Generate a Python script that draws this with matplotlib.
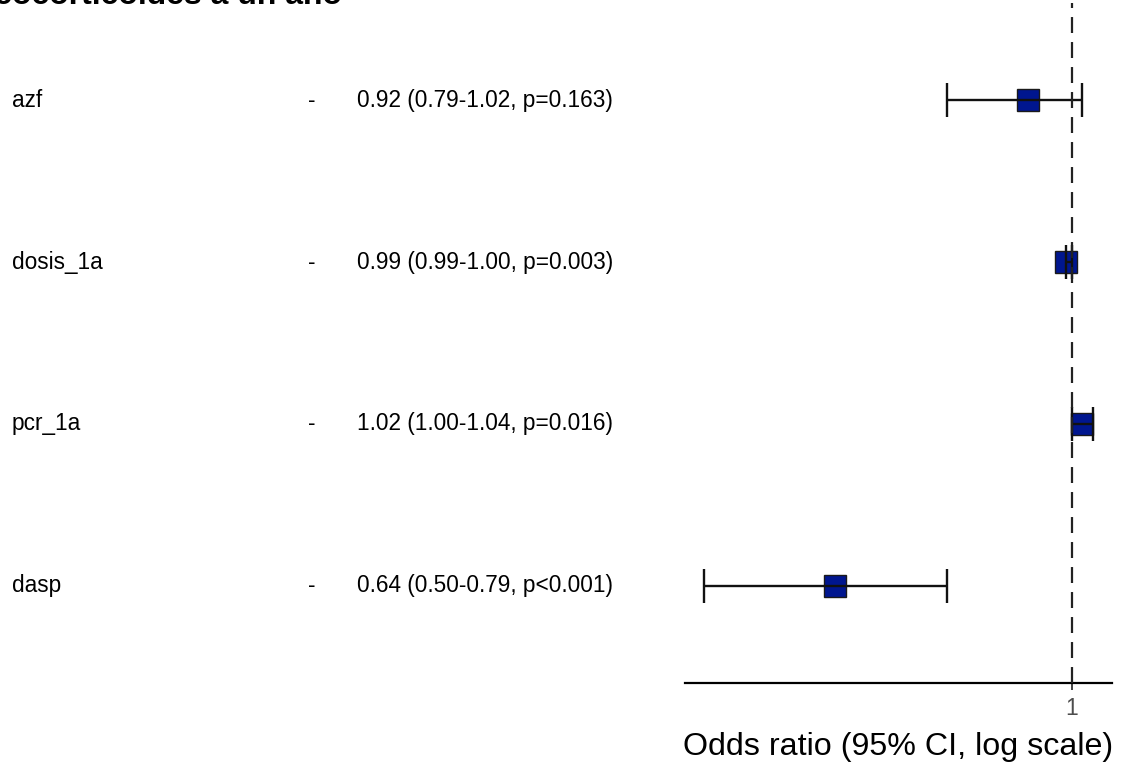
import numpy as np
import matplotlib
matplotlib.use("Agg")
from matplotlib import pyplot as plt
from matplotlib.transforms import blended_transform_factory

plt.rcParams['font.family'] = ['Liberation Sans', 'DejaVu Sans']
plt.rcParams['lines.scale_dashes'] = False

# Odds ratio table (top row first)
variables = ['azf', 'dosis_1a', 'pcr_1a', 'dasp']
levels = ['-', '-', '-', '-']
odds = [0.92, 0.99, 1.02, 0.64]
lower = [0.79, 0.99, 1.00, 0.50]
upper = [1.02, 1.00, 1.04, 0.79]
pvals = ['p=0.163', 'p=0.003', 'p=0.016', 'p<0.001']

title = 'Uso de glucocorticoides a un año'
xlabel = 'Odds ratio (95% CI, log scale)'

W, H = 1121, 764
fig = plt.figure(figsize=(W / 100, H / 100), dpi=100)
ax = fig.add_axes([685 / W, 1 - 683 / H, (1112 - 685) / W, 680 / H])

ypos = np.arange(len(variables))[::-1] + 1
odds = np.array(odds)
lower = np.array(lower)
upper = np.array(upper)

# squares, then CI bars on top, then reference line
ax.plot(odds, ypos, 's', ms=15.5, mfc='#00168f', mec='#1a1a1a', mew=1.0, zorder=2)
ax.errorbar(odds, ypos, xerr=[odds - lower, upper - odds], fmt='none',
            ecolor='#111111', elinewidth=1.7, capsize=12, capthick=1.7, zorder=3)
ax.axvline(1, color='#222222', lw=1.6, ls=(0, (11.5, 6.5)), zorder=4)

ax.set_xscale('log')
lo, hi = np.log(lower.min()), np.log(upper.max())
pad = 0.05 * (hi - lo)
ax.set_xlim(np.exp(lo - pad), np.exp(hi + pad))
ax.set_ylim(0.4, len(variables) + 0.6)

ax.set_xticks([1])
ax.set_xticklabels(['1'])
ax.xaxis.set_minor_locator(matplotlib.ticker.NullLocator())
ax.tick_params(axis='x', length=5, width=1.3, color='#333333',
               labelsize=16.5, labelcolor='#4d4d4d', pad=5)
ax.set_yticks([])
for s in ['top', 'right', 'left']:
    ax.spines[s].set_visible(False)
ax.spines['bottom'].set_linewidth(1.6)
ax.set_xlabel(xlabel, fontsize=23.2, labelpad=9)

# left-hand table text
tr = blended_transform_factory(fig.transFigure, ax.transData)
for y, name, lev, o, l, u, p in zip(ypos, variables, levels, odds, lower, upper, pvals):
    ax.text(12 / W, y, name, transform=tr, ha='left', va='center', fontsize=16.3)
    ax.text(308 / W, y, lev, transform=tr, ha='left', va='center', fontsize=16.3)
    ax.text(357 / W, y, f'{o:.2f} ({l:.2f}-{u:.2f}, {p})', transform=tr,
            ha='left', va='center', fontsize=16.3)

# title, clipped by the top edge as in the original
fig.text(342 / W, 1 - 4 / H, title, ha='right', va='baseline',
         fontsize=23, fontweight='bold')

fig.savefig('out.png', dpi=100)
